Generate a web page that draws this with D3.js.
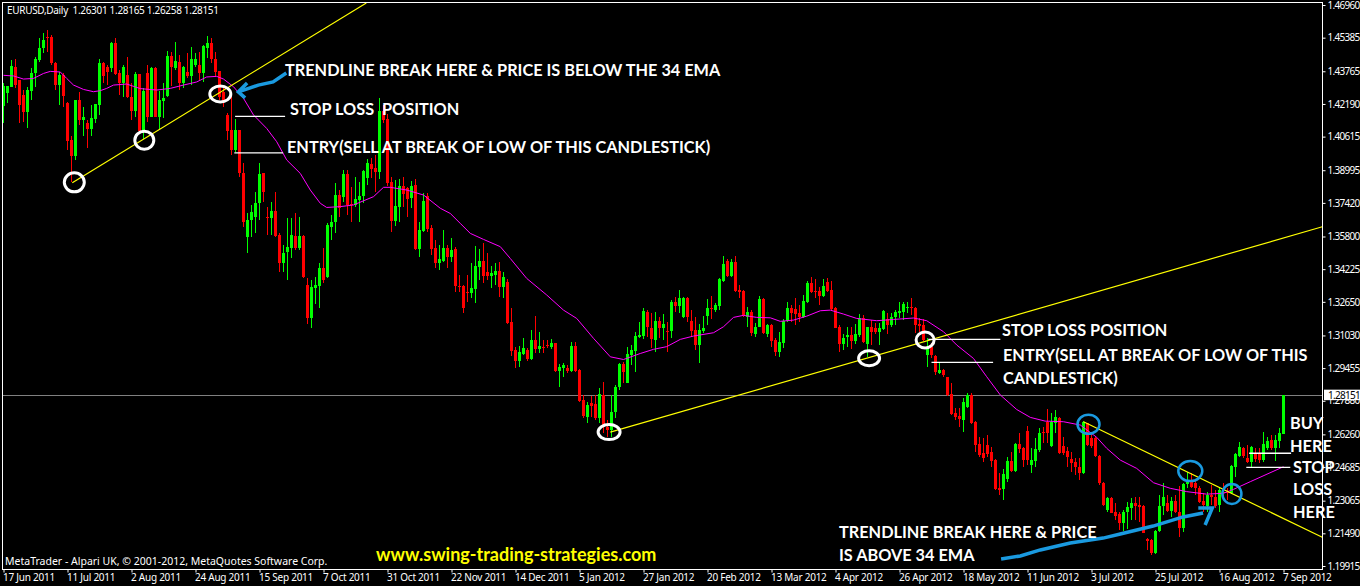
<!DOCTYPE html>
<html>
<head>
<meta charset="utf-8">
<script src="https://cdnjs.cloudflare.com/ajax/libs/d3/7.8.5/d3.min.js"></script>
<style>
  html, body { margin: 0; background: #000; overflow: hidden; }
  svg { display: block; }
  .small { font-family: "Noto Sans", sans-serif; font-size: 10.5px; fill: #fff; }
  .price { font-family: "Noto Sans", sans-serif; font-size: 10px; letter-spacing: -0.7px; }
  .date { font-size: 10px; letter-spacing: -0.25px; }
  .note { font-family: Lato, sans-serif; font-weight: 700; font-size: 16.3px; fill: #fff; }
  .site { font-family: Lato, sans-serif; font-weight: 700; font-size: 18px; fill: #ffff00; }
</style>
</head>
<body>
<script>
// daily candles, one value per bar
const opens = [
1.4209,1.4270,1.4302,1.4399,1.4334,1.4262,1.4182,1.4283,1.4366,1.4431,
1.4487,1.4543,1.4543,1.4418,1.4310,1.4358,1.4222,1.4045,1.3968,1.4238,
1.4141,1.4125,1.4096,1.4145,1.4214,1.4415,1.4399,1.4391,1.4511,1.4370,
1.4318,1.4358,1.4254,1.4186,1.4363,1.4090,1.4366,1.4158,1.4394,1.4158,
1.4235,1.4257,1.4450,1.4391,1.4423,1.4318,1.4374,1.4354,1.4407,1.4407,
1.4370,1.4487,1.4514,1.4434,1.4379,1.4278,1.4166,1.4093,1.3997,1.4093,
1.3888,1.3576,1.3659,1.3675,1.3740,1.3884,1.3675,1.3667,1.3704,1.3587,
1.3454,1.3507,1.3523,1.3582,1.3523,1.3582,1.3346,1.3186,1.3330,1.3341,
1.3428,1.3383,1.3627,1.3651,1.3780,1.3769,1.3881,1.3736,1.3732,1.3756,
1.3775,1.3862,1.3929,1.3910,1.3892,1.4186,1.4146,1.3842,1.3654,1.3724,
1.3823,1.3812,1.3764,1.3828,1.3521,1.3608,1.3775,1.3622,1.3526,1.3450,
1.3463,1.3523,1.3483,1.3518,1.3343,1.3343,1.3314,1.3306,1.3328,1.3434,
1.3462,1.3409,1.3389,1.3393,1.3413,1.3335,1.3362,1.3169,1.3033,1.2981,
1.3013,1.3033,1.2991,1.3081,1.3037,1.3049,1.3057,1.3045,1.3065,1.2933,
1.2944,1.2946,1.2933,1.3052,1.2936,1.2791,1.2708,1.2779,1.2772,1.2705,
1.2816,1.2663,1.2647,1.2735,1.2853,1.2965,1.2875,1.3008,1.3029,1.3094,
1.3100,1.3217,1.3140,1.3081,1.3172,1.3140,1.3126,1.3126,1.3266,1.3245,
1.3193,1.3282,1.3172,1.3129,1.3057,1.3124,1.3196,1.3235,1.3225,1.3245,
1.3365,1.3462,1.3391,1.3455,1.3322,1.3317,1.3193,1.3217,1.3110,1.3145,
1.3278,1.3110,1.3153,1.3081,1.3023,1.3068,1.3174,1.3233,1.3229,1.3212,
1.3190,1.3264,1.3357,1.3317,1.3317,1.3293,1.3360,1.3322,1.3233,1.3145,
1.3060,1.3094,1.3105,1.3076,1.3103,1.3185,1.3061,1.3142,1.3137,1.3121,
1.3132,1.3180,1.3153,1.3190,1.3212,1.3216,1.3233,1.3238,1.3235,1.3158,
1.3153,1.3008,1.3049,1.3004,1.2923,1.2936,1.2901,1.2819,1.2727,1.2714,
1.2695,1.2759,1.2816,1.2687,1.2579,1.2534,1.2575,1.2539,1.2502,1.2367,
1.2361,1.2409,1.2499,1.2451,1.2579,1.2559,1.2644,1.2478,1.2499,1.2550,
1.2639,1.2687,1.2570,1.2679,1.2706,1.2570,1.2547,1.2506,1.2494,1.2467,
1.2438,1.2679,1.2607,1.2607,1.2522,1.2393,1.2261,1.2318,1.2253,1.2242,
1.2200,1.2253,1.2269,1.2297,1.2285,1.2281,1.2121,1.2117,1.2052,1.2158,
1.2281,1.2297,1.2256,1.2305,1.2253,1.2173,1.2387,1.2401,1.2393,1.2366,
1.2306,1.2281,1.2334,1.2326,1.2285,1.2350,1.2350,1.2342,1.2470,1.2522,
1.2562,1.2514,1.2494,1.2531,1.2531,1.2502,1.2560,1.2599,1.2559,1.2596,
1.26301];
const highs = [
1.4318,1.4305,1.4431,1.4434,1.4334,1.4286,1.4299,1.4391,1.4447,1.4535,
1.4559,1.4575,1.4551,1.4423,1.4374,1.4366,1.4230,1.4064,1.4238,1.4278,
1.4206,1.4141,1.4214,1.4219,1.4434,1.4423,1.4407,1.4519,1.4535,1.4383,
1.4407,1.4447,1.4318,1.4374,1.4363,1.4294,1.4407,1.4399,1.4399,1.4283,
1.4318,1.4476,1.4471,1.4519,1.4455,1.4403,1.4463,1.4495,1.4463,1.4471,
1.4503,1.4546,1.4535,1.4471,1.4379,1.4299,1.4174,1.4270,1.4145,1.4093,
1.3933,1.3692,1.3732,1.3796,1.3933,1.3888,1.3724,1.3748,1.3796,1.3598,
1.3539,1.3667,1.3667,1.3692,1.3675,1.3587,1.3380,1.3370,1.3384,1.3452,
1.3525,1.3643,1.3683,1.3836,1.3804,1.3900,1.3900,1.3820,1.3865,1.3844,
1.3900,1.3952,1.3957,1.3973,1.4246,1.4214,1.4170,1.3865,1.3852,1.3855,
1.3865,1.3820,1.3849,1.3855,1.3651,1.3788,1.3788,1.3635,1.3563,1.3539,
1.3611,1.3539,1.3571,1.3527,1.3394,1.3346,1.3394,1.3450,1.3534,1.3518,
1.3547,1.3499,1.3438,1.3454,1.3458,1.3410,1.3373,1.3233,1.3049,1.3052,
1.3089,1.3041,1.3129,1.3196,1.3121,1.3081,1.3081,1.3084,1.3068,1.2965,
1.2968,1.2960,1.3073,1.3073,1.2939,1.2816,1.2783,1.2811,1.2816,1.2848,
1.2877,1.2695,1.2816,1.2864,1.2971,1.2976,1.3049,1.3057,1.3121,1.3169,
1.3233,1.3225,1.3209,1.3217,1.3193,1.3206,1.3169,1.3274,1.3290,1.3322,
1.3290,1.3290,1.3225,1.3190,1.3156,1.3196,1.3277,1.3293,1.3261,1.3378,
1.3486,1.3470,1.3470,1.3486,1.3346,1.3322,1.3238,1.3225,1.3161,1.3293,
1.3282,1.3158,1.3158,1.3089,1.3121,1.3180,1.3265,1.3249,1.3282,1.3249,
1.3298,1.3367,1.3383,1.3373,1.3335,1.3373,1.3378,1.3367,1.3238,1.3153,
1.3110,1.3145,1.3145,1.3156,1.3206,1.3201,1.3145,1.3177,1.3161,1.3161,
1.3225,1.3212,1.3209,1.3225,1.3265,1.3265,1.3265,1.3282,1.3238,1.3185,
1.3180,1.3089,1.3065,1.3008,1.2976,1.2939,1.2904,1.2872,1.2751,1.2751,
1.2799,1.2824,1.2824,1.2692,1.2615,1.2607,1.2623,1.2566,1.2505,1.2438,
1.2457,1.2518,1.2542,1.2583,1.2631,1.2567,1.2666,1.2559,1.2607,1.2655,
1.2663,1.2747,1.2727,1.2743,1.2711,1.2615,1.2567,1.2542,1.2510,1.2510,
1.2692,1.2682,1.2631,1.2615,1.2526,1.2398,1.2326,1.2326,1.2293,1.2253,
1.2261,1.2301,1.2318,1.2326,1.2326,1.2285,1.2125,1.2120,1.2165,1.2334,
1.2390,1.2334,1.2326,1.2334,1.2377,1.2390,1.2446,1.2438,1.2406,1.2377,
1.2342,1.2350,1.2382,1.2358,1.2366,1.2390,1.2366,1.2478,1.2534,1.2591,
1.2567,1.2575,1.2570,1.2559,1.2559,1.2639,1.2615,1.2623,1.2623,1.2655,
1.28165];
const lows = [
1.4125,1.4222,1.4299,1.4294,1.4125,1.4133,1.4101,1.4238,1.4302,1.4423,
1.4463,1.4471,1.4407,1.4286,1.4214,1.4206,1.3997,1.3844,1.3949,1.4117,
1.4064,1.4005,1.4064,1.4125,1.4166,1.4318,1.4310,1.4374,1.4358,1.4262,
1.4254,1.4246,1.4141,1.4158,1.4085,1.4048,1.4133,1.4154,1.4154,1.4096,
1.4150,1.4254,1.4305,1.4383,1.4286,1.4294,1.4342,1.4310,1.4399,1.4334,
1.4326,1.4439,1.4415,1.4350,1.4238,1.4203,1.4045,1.3973,1.3989,1.3868,
1.3627,1.3499,1.3579,1.3595,1.3659,1.3748,1.3587,1.3587,1.3576,1.3410,
1.3410,1.3370,1.3475,1.3515,1.3515,1.3378,1.3158,1.3139,1.3255,1.3235,
1.3356,1.3378,1.3563,1.3595,1.3675,1.3748,1.3683,1.3651,1.3724,1.3651,
1.3740,1.3828,1.3860,1.3796,1.3855,1.4125,1.3823,1.3603,1.3630,1.3651,
1.3724,1.3675,1.3716,1.3515,1.3479,1.3603,1.3603,1.3491,1.3426,1.3418,
1.3458,1.3426,1.3458,1.3314,1.3314,1.3209,1.3266,1.3282,1.3257,1.3370,
1.3357,1.3370,1.3330,1.3346,1.3290,1.3282,1.3156,1.3004,1.2944,1.2952,
1.3008,1.2981,1.2984,1.3016,1.3016,1.3016,1.3041,1.3039,1.2928,1.2856,
1.2904,1.2923,1.2928,1.2928,1.2783,1.2703,1.2682,1.2711,1.2695,1.2679,
1.2631,1.2615,1.2615,1.2703,1.2840,1.2872,1.2872,1.2960,1.2928,1.3089,
1.3084,1.3097,1.3041,1.3025,1.3089,1.3081,1.3025,1.3089,1.3217,1.3213,
1.3185,1.3169,1.3097,1.3032,1.2971,1.3113,1.3153,1.3180,1.3217,1.3225,
1.3362,1.3386,1.3386,1.3314,1.3282,1.3193,1.3145,1.3100,1.3094,1.3142,
1.3110,1.3097,1.3049,1.3004,1.3000,1.3041,1.3169,1.3169,1.3153,1.3169,
1.3185,1.3261,1.3306,1.3282,1.3249,1.3290,1.3314,1.3225,1.3137,1.3024,
1.3032,1.3049,1.3036,1.3061,1.3097,1.3068,1.3000,1.3057,1.3110,1.3057,
1.3129,1.3110,1.3145,1.3153,1.3185,1.3177,1.3209,1.3201,1.3113,1.3121,
1.3077,1.2952,1.2992,1.2912,1.2917,1.2901,1.2812,1.2719,1.2695,1.2663,
1.2639,1.2751,1.2676,1.2542,1.2518,1.2494,1.2518,1.2470,1.2358,1.2333,
1.2309,1.2398,1.2446,1.2446,1.2534,1.2470,1.2478,1.2438,1.2470,1.2542,
1.2583,1.2583,1.2567,1.2631,1.2531,1.2526,1.2467,1.2446,1.2430,1.2406,
1.2435,1.2571,1.2559,1.2518,1.2382,1.2281,1.2253,1.2245,1.2213,1.2165,
1.2162,1.2168,1.2213,1.2213,1.2205,1.2149,1.2068,1.2044,1.2049,1.2155,
1.2237,1.2253,1.2229,1.2248,1.2130,1.2157,1.2366,1.2366,1.2334,1.2297,
1.2253,1.2253,1.2285,1.2269,1.2253,1.2318,1.2309,1.2338,1.2422,1.2515,
1.2510,1.2486,1.2462,1.2494,1.2486,1.2494,1.2550,1.2550,1.2499,1.2559,
1.26258];
const closes = [
1.4305,1.4305,1.4402,1.4310,1.4214,1.4182,1.4286,1.4366,1.4434,1.4487,
1.4527,1.4538,1.4418,1.4310,1.4358,1.4257,1.4042,1.3968,1.4238,1.4141,
1.4154,1.4096,1.4150,1.4219,1.4415,1.4354,1.4374,1.4514,1.4363,1.4318,
1.4395,1.4251,1.4186,1.4363,1.4090,1.4281,1.4158,1.4394,1.4158,1.4238,
1.4246,1.4450,1.4395,1.4428,1.4318,1.4395,1.4354,1.4434,1.4434,1.4370,
1.4498,1.4511,1.4434,1.4374,1.4254,1.4230,1.4090,1.3997,1.4093,1.3884,
1.3651,1.3659,1.3700,1.3740,1.3881,1.3796,1.3671,1.3704,1.3582,1.3454,
1.3499,1.3528,1.3587,1.3523,1.3582,1.3383,1.3187,1.3338,1.3346,1.3428,
1.3370,1.3635,1.3651,1.3780,1.3716,1.3881,1.3732,1.3732,1.3759,1.3775,
1.3897,1.3932,1.3907,1.3891,1.4186,1.4141,1.3839,1.3656,1.3727,1.3823,
1.3785,1.3759,1.3823,1.3518,1.3611,1.3751,1.3614,1.3518,1.3450,1.3471,
1.3526,1.3483,1.3515,1.3341,1.3335,1.3235,1.3309,1.3331,1.3439,1.3462,
1.3391,1.3391,1.3405,1.3412,1.3338,1.3386,1.3161,1.3028,1.2981,1.3023,
1.3042,1.2988,1.3081,1.3036,1.3052,1.3041,1.3053,1.3066,1.2933,1.2949,
1.2960,1.2931,1.3052,1.2933,1.2788,1.2714,1.2766,1.2763,1.2705,1.2820,
1.2663,1.2647,1.2735,1.2853,1.2965,1.2926,1.3012,1.3033,1.3100,1.3105,
1.3221,1.3142,1.3087,1.3172,1.3140,1.3156,1.3123,1.3266,1.3245,1.3282,
1.3285,1.3190,1.3124,1.3057,1.3129,1.3139,1.3233,1.3229,1.3249,1.3375,
1.3447,1.3391,1.3455,1.3317,1.3314,1.3198,1.3214,1.3113,1.3145,1.3278,
1.3113,1.3153,1.3076,1.3024,1.3071,1.3174,1.3233,1.3212,1.3206,1.3190,
1.3270,1.3357,1.3312,1.3312,1.3293,1.3341,1.3317,1.3229,1.3140,1.3060,
1.3089,1.3105,1.3076,1.3110,1.3188,1.3073,1.3145,1.3121,1.3121,1.3140,
1.3220,1.3153,1.3193,1.3217,1.3220,1.3254,1.3238,1.3233,1.3153,1.3150,
1.3081,1.3041,1.3008,1.2928,1.2936,1.2912,1.2816,1.2724,1.2708,1.2698,
1.2782,1.2814,1.2682,1.2575,1.2526,1.2510,1.2531,1.2497,1.2362,1.2358,
1.2435,1.2499,1.2451,1.2579,1.2554,1.2502,1.2502,1.2502,1.2555,1.2634,
1.2631,1.2634,1.2687,1.2708,1.2534,1.2534,1.2515,1.2490,1.2467,1.2438,
1.2687,1.2575,1.2570,1.2523,1.2390,1.2285,1.2318,1.2248,1.2232,1.2200,
1.2253,1.2274,1.2297,1.2281,1.2274,1.2152,1.2113,1.2052,1.2162,1.2281,
1.2326,1.2256,1.2305,1.2253,1.2173,1.2387,1.2398,1.2374,1.2366,1.2301,
1.2285,1.2334,1.2322,1.2281,1.2358,1.2342,1.2342,1.2473,1.2531,1.2567,
1.2522,1.2493,1.2567,1.2506,1.2502,1.2579,1.2596,1.2559,1.2599,1.2631,
1.28151];

// 34 EMA, read every few bars
const emaBars = [0,2.5,5,7.5,10,11.7,14.2,15.8,17.5,20,22.5,24.2,25.8,27.5,30.8,34.2,38.3,41.7,45,48.3,50.8,53.3,55,57.5,60,62.5,65.8,68.3,70.8,74.2,76.7,79.2,80.8,84.2,
  87.5,92.5,95,96.7,100.8,105,109.2,111.7,114.2,116.7,120,124.2,126.7,130.8,135.8,140,143.3,147.5,151.7,155,159.2,162.5,165.8,169.2,
  172.5,177.5,180,182.5,185,188.3,191.7,194.2,197.5,200.8,204.2,206.7,210,213.3,218.3,222.5,227.5,230.8,235,238.3,242.5,245.8,249.2,253.3,
  256.7,260.4,265,269.2,273.3,275.8,279.2,283.3,287.5,291.7,295.8,300.8,305,307.5,311.7,320];
const emaPrices = [1.4357,1.4354,1.4339,1.4342,1.4366,1.4376,1.4373,1.4342,1.4310,1.4289,1.4278,1.4283,1.4294,1.4310,1.4315,1.4293,1.4286,1.4294,1.4310,1.4325,1.4349,1.4352,1.4339,1.4302,1.4246,1.4166,1.4101,1.4037,1.3949,1.3884,1.3804,1.3740,1.3720,1.3724,
  1.3732,1.3772,1.3817,1.3817,1.3804,1.3780,1.3716,1.3691,1.3643,1.3595,1.3566,1.3531,1.3474,1.3378,1.3298,1.3225,1.3185,1.3089,1.3000,1.2987,1.3016,1.3036,1.3049,1.3084,
  1.3100,1.3116,1.3145,1.3190,1.3200,1.3190,1.3188,1.3171,1.3177,1.3196,1.3222,1.3225,1.3206,1.3185,1.3174,1.3180,1.3187,1.3174,1.3121,1.3057,1.2992,1.2904,1.2816,1.2746,
  1.2708,1.2690,1.2687,1.2671,1.2612,1.2559,1.2502,1.2462,1.2393,1.2366,1.2350,1.2338,1.2342,1.2361,1.2398,1.2470];

const dateLabels = ["17 Jun 2011","11 Jul 2011","2 Aug 2011","24 Aug 2011","15 Sep 2011","7 Oct 2011","31 Oct 2011","22 Nov 2011","14 Dec 2011","5 Jan 2012","27 Jan 2012","20 Feb 2012","13 Mar 2012","4 Apr 2012","26 Apr 2012","18 May 2012","11 Jun 2012","3 Jul 2012","25 Jul 2012","16 Aug 2012","7 Sep 2012"];
const priceTicks = [1.46960,1.45385,1.43765,1.42190,1.40615,1.38995,1.37420,1.35800,1.34225,1.32650,1.31030,1.29455,1.27880,1.26260,1.24685,1.23065,1.21490,1.19915];
const lastPrice = 1.28151;

// hand drawn stuff on the chart, all in [bar, price]
const trendlines = [[[17.2,1.3839],[90.7,1.4706]], [[151.7,1.2637],[329.7,1.3627]], [[270,1.2687],[329.7,1.2130]]];
const whiteRings = [[17.7,1.3841],[35.2,1.4044],[54.2,1.4267],[151.4,1.2637],[216.4,1.2993],[230.4,1.3081]];
const blueRings = [[271.25,1.2675],[296.7,1.2449],[307.1,1.2339]];
const levelLines = [[57.9,70.4,1.4159],[57.7,69.9,1.3983],[231.2,249.2,1.3084],[232,247.4,1.2973],[311.4,321.9,1.2535],[310.7,321.7,1.2467]];
const arrowOne = [[70.7,1.4368],[67.4,1.4325],[63.7,1.4310],[58.7,1.4277]];
const arrowOneHead = [[60.9,1.4320],[58.7,1.4277],[60.4,1.4248]];
const arrowTwo = [[249.4,1.2025],[254.2,1.2040],[259.2,1.2069],[266.7,1.2102],[274.9,1.2126],[279.2,1.2146],[287.4,1.2184],[294.9,1.2228],[299.9,1.2247]];
const arrowTwoHead = [[298.7,1.2271],[302.2,1.2271],[300.4,1.2189]];

const width = 1360, height = 586;
const frameL = 2.5, frameR = 1322.5, frameT = 2.5, frameB = 569.5;

const svg = d3.select("body").append("svg").attr("width", width).attr("height", height);

const x = d3.scaleLinear().domain([0, 320]).range([3.5, 1283.5]);
const y = d3.scaleLinear().domain([1.46960, 1.19915]).range([5, 566]);

svg.append("clipPath").attr("id", "plot")
  .append("rect").attr("x", frameL).attr("y", frameT).attr("width", frameR - frameL).attr("height", frameB - frameT);

const plot = svg.append("g").attr("clip-path", "url(#plot)");
const colorOf = i => closes[i] >= opens[i] ? "#00ff00" : "#ff0000";
const bars = d3.range(opens.length);

// last price line goes under the candles
plot.append("line").attr("x1", frameL).attr("x2", frameR)
  .attr("y1", Math.round(y(lastPrice)) + 0.5).attr("y2", Math.round(y(lastPrice)) + 0.5)
  .attr("stroke", "#808080");

plot.selectAll(".wick").data(bars).join("line").attr("class", "wick")
  .attr("x1", i => x(i)).attr("x2", i => x(i))
  .attr("y1", i => y(highs[i])).attr("y2", i => y(lows[i]))
  .attr("stroke", colorOf).attr("shape-rendering", "crispEdges");

plot.selectAll(".body").data(bars).join("rect").attr("class", "body")
  .attr("x", i => x(i) - 1.5).attr("width", 3)
  .attr("y", i => y(Math.max(opens[i], closes[i])))
  .attr("height", i => Math.max(1, Math.abs(y(opens[i]) - y(closes[i]))))
  .attr("fill", colorOf).attr("shape-rendering", "crispEdges");

// ema
const line = d3.line().x(d => x(d[0])).y(d => y(d[1]));
plot.append("path").datum(emaBars.map((b, i) => [b, emaPrices[i]]))
  .attr("d", line).attr("fill", "none").attr("stroke", "#ff00ff").attr("stroke-width", 1);

// trend lines
plot.selectAll(".trend").data(trendlines).join("path").attr("class", "trend")
  .attr("d", line).attr("fill", "none").attr("stroke", "#ffff00").attr("stroke-width", 1.2);

// white marks for stop and entry
plot.selectAll(".level").data(levelLines).join("line").attr("class", "level")
  .attr("x1", d => x(d[0])).attr("x2", d => x(d[1]))
  .attr("y1", d => y(d[2])).attr("y2", d => y(d[2]))
  .attr("stroke", "#fff").attr("stroke-width", 1.4);

const whiteR = [[10,9.5],[9.5,9],[10.5,8],[11,7.5],[10.5,7.5],[9,8]];
plot.selectAll(".ring").data(whiteRings).join("ellipse").attr("class", "ring")
  .attr("cx", d => x(d[0])).attr("cy", d => y(d[1]))
  .attr("rx", (d, i) => whiteR[i][0]).attr("ry", (d, i) => whiteR[i][1])
  .attr("fill", "none").attr("stroke", "#fff").attr("stroke-width", 3);

const blue = "#1a9ae0";
const blueR = [[11,9.5],[12,10],[9.5,10]];
plot.selectAll(".bring").data(blueRings).join("ellipse").attr("class", "bring")
  .attr("cx", d => x(d[0])).attr("cy", d => y(d[1]))
  .attr("rx", (d, i) => blueR[i][0]).attr("ry", (d, i) => blueR[i][1])
  .attr("fill", "none").attr("stroke", blue).attr("stroke-width", 2.5);

[arrowOne, arrowOneHead].forEach(p => plot.append("path").attr("d", line(p))
  .attr("fill", "none").attr("stroke", blue).attr("stroke-width", 3.5));
[arrowTwo, arrowTwoHead].forEach(p => plot.append("path").attr("d", line(p))
  .attr("fill", "none").attr("stroke", blue).attr("stroke-width", 3.5));

// frame
svg.append("rect").attr("x", frameL).attr("y", frameT).attr("width", frameR - frameL).attr("height", frameB - frameT)
  .attr("fill", "none").attr("stroke", "#fff");

// axes
const yAxis = svg.append("g").attr("transform", `translate(${frameR},0)`)
  .call(d3.axisRight(y).tickValues(priceTicks).tickSize(3).tickPadding(2).tickFormat(d => d.toFixed(5)));
const xAxis = svg.append("g").attr("transform", `translate(0,${frameB})`)
  .call(d3.axisBottom(x).tickValues(dateLabels.map((d, i) => i * 16)).tickSize(3).tickPadding(1)
    .tickFormat(d => dateLabels[d / 16]));
[yAxis, xAxis].forEach(a => {
  a.select(".domain").remove();
  a.selectAll("line").attr("stroke", "#fff");
  a.selectAll("text").style("fill", "#fff");
});
yAxis.selectAll("text").attr("class", "price").attr("font-family", null).attr("font-size", null);
yAxis.attr("font-family", null).attr("font-size", null);
xAxis.attr("font-family", null).attr("font-size", null);
xAxis.selectAll("text").attr("class", "small date").attr("text-anchor", "start").attr("dx", -1);

// last price tag, sits on top of the axis labels
svg.append("rect").attr("x", 1324).attr("y", y(lastPrice) - 5.5).attr("width", 36).attr("height", 10.5).attr("fill", "#fff");
svg.append("text").attr("class", "price").style("fill", "#000")
  .attr("x", 1328).attr("y", y(lastPrice) + 4).text(lastPrice.toFixed(5));

// texts
const small = (s, px, py) => svg.append("text").attr("class", "small").attr("x", px).attr("y", py).text(s);
small("EURUSD,Daily  1.26301 1.28165 1.26258 1.28151", 7, 14).attr("xml:space", "preserve")
  .style("font-size", "10px").style("letter-spacing", "-0.31px");
small("MetaTrader - Alpari UK, © 2001-2012, MetaQuotes Software Corp.", 5, 565);

const notes = [
  ["TRENDLINE BREAK HERE & PRICE IS BELOW THE 34 EMA", 285, 76],
  ["STOP LOSS  POSITION", 290, 115],
  ["ENTRY(SELL AT BREAK OF LOW OF THIS CANDLESTICK)", 287, 153],
  ["STOP LOSS POSITION", 1002, 336],
  ["ENTRY(SELL AT BREAK OF LOW OF THIS", 1003, 361],
  ["CANDLESTICK)", 1003, 384],
  ["BUY", 1290, 429], ["HERE", 1290, 452],
  ["STOP", 1293, 473], ["LOSS", 1293, 495], ["HERE", 1293, 518],
  ["TRENDLINE BREAK HERE & PRICE", 839, 538],
  ["IS ABOVE 34 EMA", 839, 561]
];
svg.selectAll(".note").data(notes).join("text").attr("class", "note")
  .attr("x", d => d[1]).attr("y", d => d[2]).attr("xml:space", "preserve").text(d => d[0]);

svg.append("text").attr("class", "site")
  .attr("x", 376).attr("y", 561).text("www.swing-trading-strategies.com");
</script>
</body>
</html>
